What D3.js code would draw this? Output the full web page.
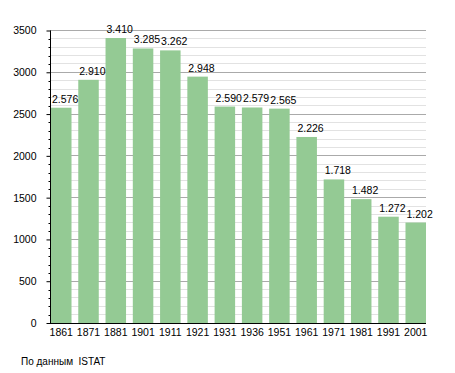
<!DOCTYPE html>
<html><head><meta charset="utf-8">
<script src="https://cdn.jsdelivr.net/npm/d3@7"></script>
<style>body{margin:0;background:#fff}svg{display:block;font-family:"Liberation Sans",Arial,sans-serif}</style>
</head><body>
<svg id="c" width="455" height="373"></svg>
<script>
const years = ["1861","1871","1881","1901","1911","1921","1931","1936","1951","1961","1971","1981","1991","2001"];
const population = [2576,2910,3410,3285,3262,2948,2590,2579,2565,2226,1718,1482,1272,1202];
const majorTicks = [0,500,1000,1500,2000,2500,3000,3500];
const sourceText = "По данным  ISTAT";

const svg = d3.select("#c");
const x = d3.scaleBand().domain(years).range([51,426]).paddingInner(0.248).paddingOuter(0);
const y = d3.scaleLinear().domain([0,3500]).range([323,30.5]);
const minor = d3.range(0,3501,100).filter(v => v % 500 !== 0);

// minor gridlines
svg.append("g").selectAll("line").data(minor).join("line")
  .attr("x1",50).attr("x2",426).attr("y1",d=>y(d)).attr("y2",d=>y(d))
  .attr("stroke","#e2e2e2").attr("stroke-width",1).attr("shape-rendering","crispEdges");
// major gridlines
svg.append("g").selectAll("line").data(majorTicks.filter(v=>v>0)).join("line")
  .attr("x1",50).attr("x2",426).attr("y1",d=>y(d)).attr("y2",d=>y(d))
  .attr("stroke","#aaaaaa").attr("stroke-width",1).attr("shape-rendering","crispEdges");

// bars
svg.append("g").selectAll("rect").data(population).join("rect")
  .attr("x",(d,i)=>x(years[i])).attr("width",x.bandwidth())
  .attr("y",d=>y(d)).attr("height",d=>y(0)-y(d))
  .attr("fill","#94ca94");

// value labels
const fmt = d => d3.format(",")(d).replace(/,/g,".");
svg.append("g").selectAll("text").data(population).join("text")
  .attr("x",(d,i)=>x(years[i])+1).attr("y",d=>y(d)-5)
  .attr("font-size","10.5px").attr("fill","#000").text(fmt);

// y axis
const yAxis = d3.axisLeft(y).tickValues(majorTicks).tickSize(4).tickPadding(10).tickFormat(d3.format("d"));
const ga = svg.append("g").attr("transform","translate(50.5,0)").call(yAxis);
ga.select(".domain").remove();
ga.selectAll("text").attr("font-size","10.5px").attr("font-family","Liberation Sans, Arial, sans-serif");
svg.append("g").attr("transform","translate(50.5,0)").selectAll("line").data(minor).join("line")
  .attr("x1",-2).attr("x2",0).attr("y1",d=>Math.round(y(d))+0.5).attr("y2",d=>Math.round(y(d))+0.5)
  .attr("stroke","#000");
svg.append("line").attr("x1",50.5).attr("x2",50.5).attr("y1",y(3500)).attr("y2",y(0)+1).attr("stroke","#000");

// x axis
const xAxis = d3.axisBottom(x).tickSize(0).tickPadding(6);
const gx = svg.append("g").attr("transform",`translate(0,${y(0)})`).call(xAxis);
gx.select(".domain").remove();
gx.selectAll("text").attr("font-size","10.5px").attr("font-family","Liberation Sans, Arial, sans-serif");
svg.append("line").attr("x1",50).attr("x2",426).attr("y1",y(0)+0.5).attr("y2",y(0)+0.5).attr("stroke","#000");

svg.append("text").attr("x",21).attr("y",365).attr("font-size","10px").attr("xml:space","preserve").text(sourceText);
</script>
</body></html>
